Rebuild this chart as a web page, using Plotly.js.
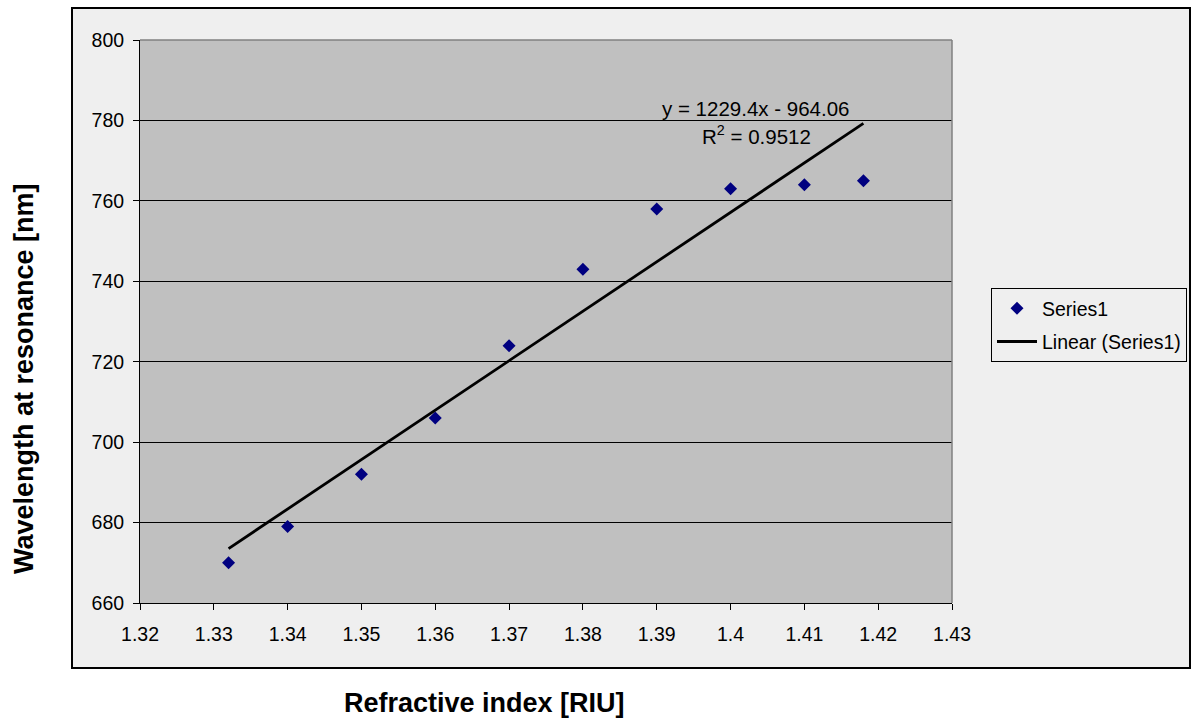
<!DOCTYPE html>
<html>
<head>
<meta charset="utf-8">
<script src="https://cdn.plot.ly/plotly-3.0.1.min.js"></script>
<style>html,body{margin:0;padding:0;background:#fff;}#chart{width:1194px;height:722px;}</style>
</head>
<body>
<div id="chart"></div>
<script>
const refractiveIndex = [1.332, 1.34, 1.35, 1.36, 1.37, 1.38, 1.39, 1.40, 1.41, 1.418];
const wavelength = [670, 679, 692, 706, 724, 743, 758, 763, 764, 765];
const xTicks = [1.32, 1.33, 1.34, 1.35, 1.36, 1.37, 1.38, 1.39, 1.4, 1.41, 1.42, 1.43];
const yTicks = [660, 680, 700, 720, 740, 760, 780, 800];
const equationText = "y = 1229.4x - 964.06";
const r2Text = "R<sup>2</sup> = 0.9512";

// least-squares linear fit computed from the data
const n = refractiveIndex.length;
const mx = refractiveIndex.reduce((a,b)=>a+b,0)/n;
const my = wavelength.reduce((a,b)=>a+b,0)/n;
let sxy=0, sxx=0;
for (let i=0;i<n;i++){ sxy += (refractiveIndex[i]-mx)*(wavelength[i]-my); sxx += (refractiveIndex[i]-mx)**2; }
const slope = sxy/sxx, intercept = my - slope*mx;
const fitX = [Math.min(...refractiveIndex), Math.max(...refractiveIndex)];
const fitY = fitX.map(x => slope*x + intercept);

const FONT = "Liberation Sans, Arial, sans-serif";
const px = v => (v-140)/812;
const py = v => (603-v)/563;

const traces = [
  {x: refractiveIndex, y: wavelength, type: 'scatter', mode: 'markers', name: 'Series1',
   legendgroup: 'a', marker: {symbol: 'diamond', size: 10, color: '#000080'}},
  {x: fitX, y: fitY, type: 'scatter', mode: 'lines', name: 'Linear (Series1)',
   legendgroup: 'b', line: {color: '#000000', width: 2.8}}
];

const layout = {
  width: 1194, height: 722,
  margin: {l: 140, r: 242, t: 40, b: 119, autoexpand: false},
  paper_bgcolor: '#ffffff',
  plot_bgcolor: 'rgba(0,0,0,0)',
  font: {family: FONT, size: 19.5, color: '#000'},
  showlegend: true,
  legend: {x: px(991), y: py(288), xanchor: 'left', yanchor: 'top', bgcolor: '#efefef',
           bordercolor: '#000', borderwidth: 1, font: {family: FONT, size: 19.5, color: '#000'},
           tracegroupgap: 5, itemwidth: 40},
  xaxis: {range: [1.32, 1.43], tickvals: xTicks, ticktext: xTicks.map(String),
          showgrid: false, zeroline: false, showline: true, linecolor: '#000', linewidth: 1,
          ticks: 'outside', ticklen: 6, tickcolor: '#000', ticklabelstandoff: 8,
          tickfont: {family: FONT, size: 19.5, color: '#000'}},
  yaxis: {range: [660, 800], tickvals: yTicks, showgrid: true, gridcolor: '#000', gridwidth: 1,
          zeroline: false, showline: true, linecolor: '#000', linewidth: 1,
          ticks: 'outside', ticklen: 6, tickcolor: '#000', ticklabelstandoff: 5,
          tickfont: {family: FONT, size: 19.5, color: '#000'}},
  shapes: [
    {type: 'rect', xref: 'paper', yref: 'paper', x0: px(72), x1: px(1190), y0: py(668), y1: py(8),
     fillcolor: '#efefef', line: {color: '#000', width: 2}, layer: 'below'},
    {type: 'rect', xref: 'x domain', yref: 'y domain', x0: 0, x1: 1, y0: 0, y1: 1,
     fillcolor: '#c0c0c0', line: {width: 0}, layer: 'below'},
    {type: 'line', xref: 'x domain', yref: 'y domain', x0: 0, x1: 1, y0: 1, y1: 1,
     line: {color: '#808080', width: 1.5}, layer: 'above'},
    {type: 'line', xref: 'x domain', yref: 'y domain', x0: 1, x1: 1, y0: 0, y1: 1,
     line: {color: '#808080', width: 1.5}, layer: 'above'}
  ],
  annotations: [
    {text: equationText, xref: 'paper', yref: 'paper', x: px(755.5), y: py(108),
     xanchor: 'center', yanchor: 'middle', showarrow: false,
     font: {family: FONT, size: 20.5, color: '#000'}},
    {text: r2Text, xref: 'paper', yref: 'paper', x: px(756), y: py(135),
     xanchor: 'center', yanchor: 'middle', showarrow: false,
     font: {family: FONT, size: 20.5, color: '#000'}},
    {text: '<b>Wavelength at resonance [nm]</b>', xref: 'paper', yref: 'paper',
     x: px(24), y: py(379), xanchor: 'center', yanchor: 'middle', textangle: -90, showarrow: false,
     font: {family: FONT, size: 27, color: '#000'}},
    {text: '<b>Refractive index [RIU]</b>', xref: 'paper', yref: 'paper',
     x: px(484), y: py(703), xanchor: 'center', yanchor: 'middle', showarrow: false,
     font: {family: FONT, size: 27, color: '#000'}}
  ]
};

Plotly.newPlot('chart', traces, layout, {displayModeBar: false, staticPlot: true});
</script>
</body>
</html>
